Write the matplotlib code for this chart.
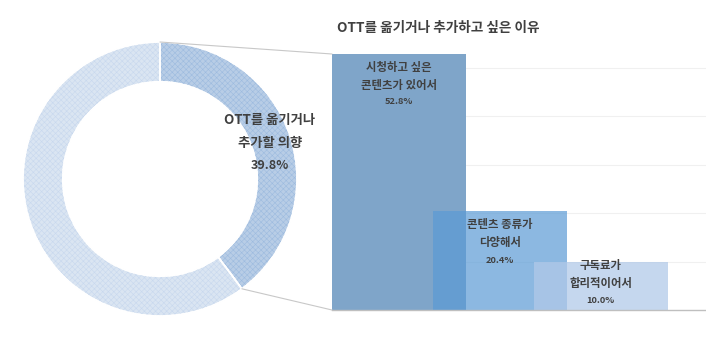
import numpy as np
import matplotlib
matplotlib.use("Agg")
import matplotlib.pyplot as plt
from matplotlib.patches import ConnectionPatch, Wedge

plt.rcParams['font.family'] = ['Noto Sans CJK KR', 'DejaVu Sans']

# ---- data ----
pie_labels = ["OTT를 옮기거나\n추가할 의향", "기타"]
pie_values = [39.8, 60.2]
bar_labels = ["시청하고 싶은\n콘텐츠가 있어서", "콘텐츠 종류가\n다양해서", "구독료가\n합리적이어서"]
bar_values = [52.8, 20.4, 10.0]
title = "OTT를 옮기거나 추가하고 싶은 이유"

TXT = "#404040"
W, H = 706, 350
fig = plt.figure(figsize=(W / 100, H / 100), dpi=100)

# ---- donut ----
cx, cy, R = 160, 179, 137
axp = fig.add_axes([(cx - R) / W, (H - cy - R) / H, 2 * R / W, 2 * R / H])
wedge_w = 0.29
fills = ["#B8CDE6", "#DAE5F2"]
hatchc = ["#9DBBDF", "#C8D8EE"]
wedges, _ = axp.pie(pie_values, startangle=90, counterclock=False, radius=1,
                    colors=fills,
                    wedgeprops=dict(width=wedge_w, edgecolor="white", linewidth=1.2))
plt.rcParams['hatch.linewidth'] = 0.4
for w, hc in zip(wedges, hatchc):
    ov = Wedge(w.center, w.r, w.theta1, w.theta2, width=w.width,
               facecolor="none", edgecolor=hc, hatch="xxxxxx", linewidth=0)
    axp.add_patch(ov)
    w.set_zorder(1); ov.set_zorder(2)
for w in wedges:
    b = Wedge(w.center, w.r, w.theta1, w.theta2, width=w.width,
              facecolor="none", edgecolor="white", linewidth=1.2, zorder=3)
    axp.add_patch(b)
axp.set_xlim(-1, 1); axp.set_ylim(-1, 1)
axp.set_aspect('equal')
axp.axis('off')

def pxy(px, py):
    return ((px - cx) / R, (cy - py) / R)

l1, l2 = pie_labels[0].split("\n")
axp.text(*pxy(270, 120), l1, ha='center', va='center', fontsize=9.6, fontweight='bold', color=TXT)
axp.text(*pxy(270, 143), l2, ha='center', va='center', fontsize=9.6, fontweight='bold', color=TXT)
axp.text(*pxy(270, 165), f"{pie_values[0]:.1f}%", ha='center', va='center', fontsize=9, fontweight='bold', color=TXT)

# ---- bars ----
bx0, bx1, by0, by1 = 332, 706, 310, 54
axb = fig.add_axes([bx0 / W, (H - by0) / H, (bx1 - bx0) / W, (by0 - by1) / H])
bw = 1.33
x = np.arange(len(bar_values))
bar_colors = [("#7FA5C9", 1.0), ("#5B9BD5", 0.70), ("#B1C9E8", 0.74)]
for i, (v, (c, a)) in enumerate(zip(bar_values, bar_colors)):
    axb.bar(x[i], v, width=bw, color=c, alpha=a, linewidth=0, zorder=2 + i)
axb.set_xlim(-bw / 2, (bx1 - 398.5) / 101)
axb.set_ylim(0, max(bar_values))
axb.set_yticks([10, 20, 30, 40, 50])
axb.grid(axis='y', color="#F0F0F0", linewidth=0.8, zorder=0)
axb.set_axisbelow(True)
axb.tick_params(left=False, bottom=False, labelleft=False, labelbottom=False)
for s in ['left', 'right', 'top']:
    axb.spines[s].set_visible(False)
axb.spines['bottom'].set_color("#BFBFBF")
axb.spines['bottom'].set_linewidth(1.0)
axb.spines['bottom'].set_zorder(10)

# label offsets (px below bar top) for the three lines
offs = [(13, 32, 47), (13, 31, 49), (4, 22, 39)]
for i, (lab, v) in enumerate(zip(bar_labels, bar_values)):
    a, b = lab.split("\n")
    o = offs[i]
    axb.annotate(a, (x[i], v), xytext=(0, -o[0] * 0.72), textcoords='offset points',
                 ha='center', va='center', fontsize=8.2, fontweight='bold', color=TXT, zorder=20)
    axb.annotate(b, (x[i], v), xytext=(0, -o[1] * 0.72), textcoords='offset points',
                 ha='center', va='center', fontsize=8.2, fontweight='bold', color=TXT, zorder=20)
    axb.annotate(f"{v:.1f}%", (x[i], v), xytext=(0, -o[2] * 0.72), textcoords='offset points',
                 ha='center', va='center', fontsize=6.7, fontweight='bold', color=TXT, zorder=20)

# ---- connection lines ----
th_end = np.deg2rad(90 - 360 * pie_values[0] / sum(pie_values))
for (pa, pb) in [((0, 1), (-bw / 2, max(bar_values))),
                 ((np.cos(th_end), np.sin(th_end)), (-bw / 2, 0))]:
    con = ConnectionPatch(xyA=pa, coordsA=axp.transData, xyB=pb, coordsB=axb.transData,
                          color="#C8C8C8", linewidth=0.8)
    fig.add_artist(con)

fig.text(337 / W, 1 - 28 / H, title, ha='left', va='center', fontsize=9.8,
         fontweight='bold', color=TXT)

fig.savefig("out.png", dpi=100)
